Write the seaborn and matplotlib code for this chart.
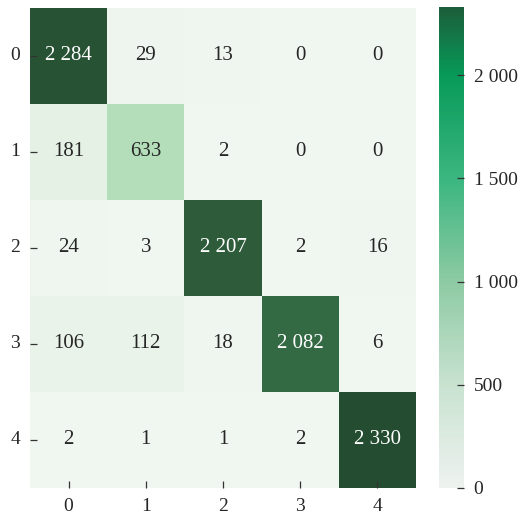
import matplotlib
matplotlib.use("Agg")
import matplotlib.pyplot as plt
import matplotlib.ticker as mticker
from matplotlib.colors import LinearSegmentedColormap, Normalize
from matplotlib.cm import ScalarMappable
import numpy as np
import seaborn as sns

# confusion matrix counts (rows = actual, cols = predicted)
labels = ["0", "1", "2", "3", "4"]
row_0 = [2284, 29, 13, 0, 0]
row_1 = [181, 633, 2, 0, 0]
row_2 = [24, 3, 2207, 2, 16]
row_3 = [106, 112, 18, 2082, 6]
row_4 = [2, 1, 1, 2, 2330]

cm = np.array([row_0, row_1, row_2, row_3, row_4])
vmax = cm.max()

sns.set_theme(style="white")
plt.rcParams["font.family"] = ["Liberation Serif", "DejaVu Serif"]
plt.rcParams["xtick.direction"] = "in"
plt.rcParams["ytick.direction"] = "in"
plt.rcParams["axes.axisbelow"] = False

# muted greens for the cells, brighter greens for the colour bar
cell_cmap = LinearSegmentedColormap.from_list("cells", [
    (0.0, "#f0f6f0"), (0.08, "#e4f1e4"), (0.27, "#b4deb9"),
    (0.6, "#6f9f7b"), (0.89, "#336b45"), (0.947, "#2e5d3a"), (1.0, "#244c30")])
bar_cmap = LinearSegmentedColormap.from_list("bar", [
    (0.0, "#eef2ef"), (0.215, "#c8e2d0"), (0.43, "#8dcaa3"),
    (0.64, "#3cb680"), (0.86, "#079a58"), (1.0, "#1c5e3b")])


def space_fmt(v, pos=None):
    return f"{int(round(v)):,}".replace(",", " ")


annot = np.vectorize(space_fmt)(cm)

fig = plt.figure(figsize=(5.18, 5.16), dpi=100)
ax = fig.add_axes([30 / 518, 1 - 488 / 516, 386 / 518, 480 / 516])
cax = fig.add_axes([439 / 518, 1 - 488 / 516, 25 / 518, 481 / 516])

sns.heatmap(
    cm,
    annot=annot,
    fmt="",
    cmap=cell_cmap,
    vmin=0,
    vmax=vmax,
    cbar=False,
    xticklabels=labels,
    yticklabels=labels,
    annot_kws={"fontsize": 15},
    ax=ax
)
ax.set_axisbelow(False)
ax.tick_params(axis="both", which="both", length=5, width=0.9, color="#333333",
               labelsize=14, pad=7, bottom=True, left=True, direction="in")
ax.tick_params(axis="y", labelrotation=0)

cbar = fig.colorbar(ScalarMappable(norm=Normalize(0, vmax), cmap=bar_cmap), cax=cax)
cbar.outline.set_visible(False)
cbar.set_ticks([0, 500, 1000, 1500, 2000])
cbar.ax.set_axisbelow(False)
cbar.ax.yaxis.set_major_formatter(mticker.FuncFormatter(space_fmt))
cbar.ax.tick_params(length=5, width=0.9, color="#333333", labelsize=14, pad=7,
                    direction="in", right=True)

fig.savefig("out.png", dpi=100)
